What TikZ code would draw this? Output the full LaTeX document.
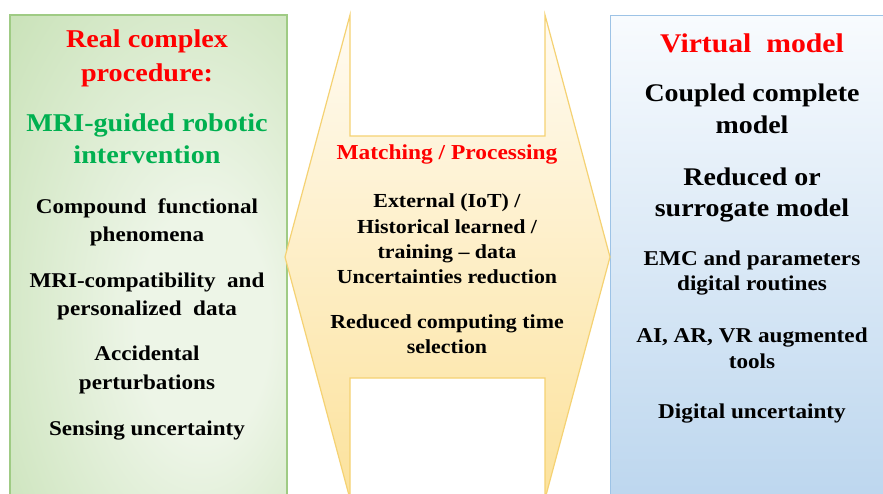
\documentclass[tikz,border=0pt]{standalone}
\usepackage{fontspec}
\setmainfont{Liberation Serif}[FakeStretch=1.1]
\definecolor{gOut}{HTML}{A6CF8A}
\definecolor{gMid}{HTML}{C9E2B8}
\definecolor{gIn}{HTML}{EDF5E7}
\definecolor{gEdge}{HTML}{9FCB84}
\definecolor{bTop}{HTML}{F8FBFE}
\definecolor{bMid}{HTML}{DCE9F6}
\definecolor{bBot}{HTML}{BCD6EE}
\definecolor{bEdge}{HTML}{9DC3E6}
\definecolor{yTop}{HTML}{FFFBF2}
\definecolor{yMid}{HTML}{FEF0CF}
\definecolor{yBot}{HTML}{FCE29C}
\definecolor{yEdge}{HTML}{F5D273}
\definecolor{txtred}{HTML}{FF0000}
\definecolor{txtgreen}{HTML}{00B050}
\pgfdeclareradialshading{panelglow}{\pgfpoint{12bp}{-8bp}}{%
  color(0bp)=(gIn); color(12bp)=(gIn); color(42bp)=(gMid); color(72bp)=(gOut)}
\tikzset{
  txt/.style={anchor=base, inner sep=0pt, font=\bfseries},
  ltitle/.style={txt, font=\bfseries\fontsize{25.6}{30}\selectfont},
  lbody/.style={txt, font=\bfseries\fontsize{21}{25}\selectfont},
  ctitle/.style={txt, text=txtred, font=\bfseries\fontsize{21.3}{25}\selectfont},
  cbody/.style={txt, font=\bfseries\fontsize{19.9}{24}\selectfont},
  rhead/.style={txt, text=txtred, font=\bfseries\fontsize{27}{30}\selectfont},
  rtitle/.style={txt, font=\bfseries\fontsize{25.4}{30}\selectfont},
  rbody/.style={txt, font=\bfseries\fontsize{21.1}{25}\selectfont},
}
\begin{document}
\begin{tikzpicture}[x=1pt, y=-1pt]
\path[use as bounding box, clip] (0,0) rectangle (883,493);
\fill[white] (0,0) rectangle (883,493);

% real procedure panel
\path[shading=panelglow, draw=gEdge, line width=1.2pt] (10,15) rectangle (287,505);
% virtual model panel
\path[top color=bTop, middle color=bMid, bottom color=bBot, draw=bEdge, line width=1pt]
  (610,15) rectangle (895,505);
% matching / processing double arrow with notches
\path[top color=yTop, middle color=yMid, bottom color=yBot, draw=yEdge, line width=1.2pt]
  (350,15) -- (350,136) -- (545,136) -- (545,15) -- (610,257) -- (545,499)
  -- (545,378) -- (350,378) -- (350,499) -- (285,257) -- cycle;

% left panel texts
\node[ltitle, text=txtred] (l1a) at (147,47) {Real complex};
\node[ltitle, text=txtred] (l1b) at (147,81) {procedure:};
\node[ltitle, text=txtgreen] (l2a) at (147,131) {MRI-guided robotic};
\node[ltitle, text=txtgreen] (l2b) at (147,163) {intervention};
\node[lbody] (l3a) at (147,213) {Compound\ \ functional};
\node[lbody] (l3b) at (147,241) {phenomena};
\node[lbody] (l4a) at (147,287) {MRI-compatibility\ \ and};
\node[lbody] (l4b) at (147,315) {personalized\ \ data};
\node[lbody] (l5a) at (147,360) {Accidental};
\node[lbody] (l5b) at (147,389) {perturbations};
\node[lbody] (l6) at (147,435) {Sensing uncertainty};

% centre texts
\node[ctitle] (c0) at (447,159) {Matching / Processing};
\node[cbody] (c1a) at (447,207) {External (IoT) /};
\node[cbody] (c1b) at (447,233) {Historical learned /};
\node[cbody] (c1c) at (447,258) {training – data};
\node[cbody] (c1d) at (447,283) {Uncertainties reduction};
\node[cbody] (c2a) at (447,328) {Reduced computing time};
\node[cbody] (c2b) at (447,353) {selection};

% right panel texts
\node[rhead] (r0) at (752,52) {Virtual\ \ model};
\node[rtitle] (r1a) at (752,101) {Coupled complete};
\node[rtitle] (r1b) at (752,133) {model};
\node[rtitle] (r2a) at (752,185) {Reduced or};
\node[rtitle] (r2b) at (752,216) {surrogate model};
\node[rbody] (r3a) at (752,265) {EMC and parameters};
\node[rbody] (r3b) at (752,290) {digital routines};
\node[rbody] (r4a) at (752,342) {AI, AR, VR augmented};
\node[rbody] (r4b) at (752,368) {tools};
\node[rbody] (r5) at (752,418) {Digital uncertainty};
\end{tikzpicture}
\end{document}
